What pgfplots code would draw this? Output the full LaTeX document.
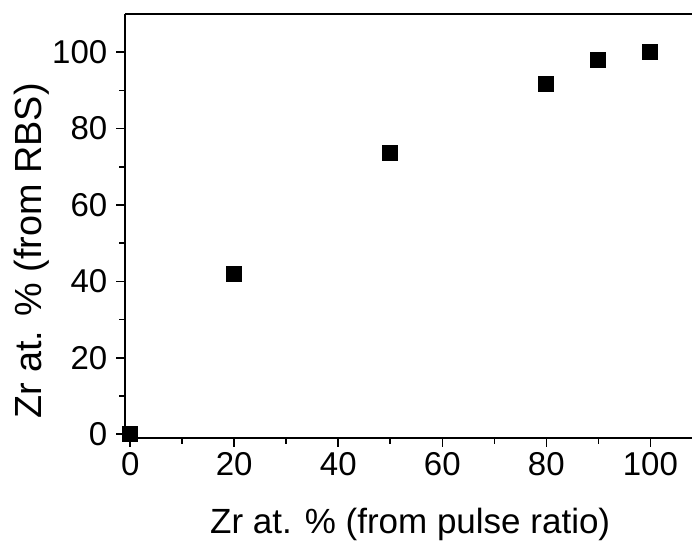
\documentclass[border=0pt]{standalone}
\usepackage{fontspec}
\setmainfont{Liberation Sans}
\usepackage{pgfplots}
\pgfplotsset{compat=1.18}
\begin{document}
\begin{tikzpicture}
\begin{axis}[
  scale only axis, width=283.5pt, height=212pt,
  xmin=-1, xmax=108, ymin=-1, ymax=110,
  xtick={0,20,...,100}, ytick={0,20,...,100},
  minor x tick num=1, minor y tick num=1,
  tick align=outside, tick pos=left,
  major tick length=4.4pt, minor tick length=2.75pt,
  axis line style={draw=none},
  every tick/.style={black, line width=0.8pt},
  /pgf/number format/assume math mode=true,
  ticklabel style={font=\fontsize{16.5}{18}\selectfont},
  xticklabel style={inner sep=2.75pt},
  yticklabel style={inner sep=4.25pt},
  xlabel={Zr at. \% (from pulse ratio)},
  ylabel={Zr at. \% (from RBS)},
  xlabel style={font=\fontsize{17.5}{20}\selectfont, at={(axis description cs:0.503,-0.2241)}, anchor=base},
  ylabel style={font=\fontsize{18.9}{21}\selectfont, at={(axis description cs:-0.1464,0.441)}, anchor=base},
  clip=false,
]
\addplot[only marks, mark=square*, mark size=3.75pt, mark options={fill=black,draw=black}] coordinates {(0,0)(20,42)(50,73.7)(80,91.7)(90,98.1)(100,100)};
\draw[line width=1pt] (rel axis cs:0,0) -- (rel axis cs:1,0);
\draw[line width=1pt] (rel axis cs:0,0) -- (rel axis cs:0,1);
\draw[line width=1pt] (rel axis cs:0,1) -- (rel axis cs:1,1);
\end{axis}
\pgfresetboundingbox
\path[use as bounding box] ([xshift=-62.5pt,yshift=-52pt]current axis.south west) rectangle ([yshift=7pt]current axis.north east);
\end{tikzpicture}
\end{document}
